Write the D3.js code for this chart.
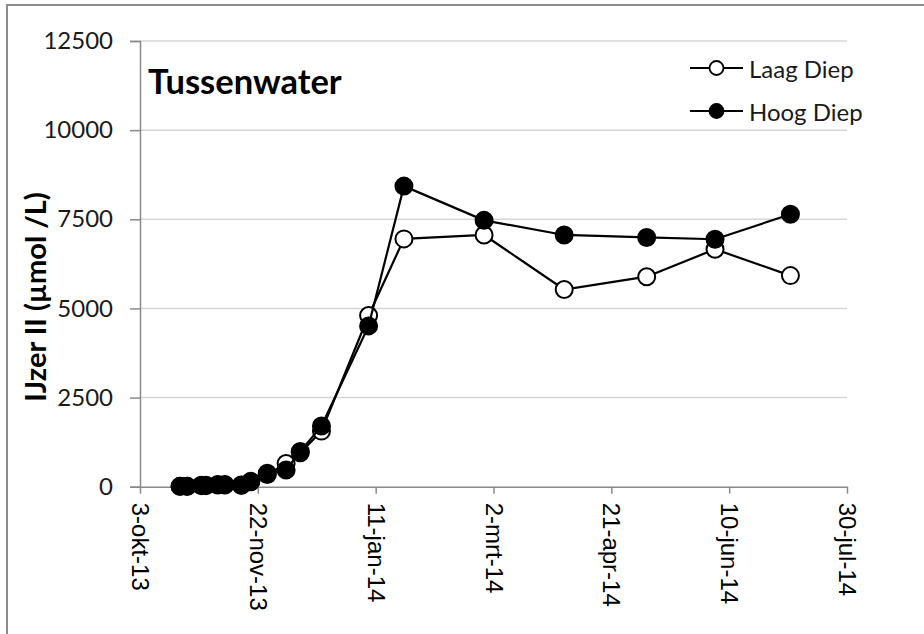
<!DOCTYPE html>
<html>
<head>
<meta charset="utf-8">
<script src="https://d3js.org/d3.v7.min.js"></script>
<style>
  html, body { margin: 0; padding: 0; background: #ffffff; }
  #chart { width: 924px; height: 634px; }
</style>
</head>
<body>
<div id="chart"></div>
<script>
// sample dates (days between them)
var sampleDates = ["2013-10-20", "2013-10-23", "2013-10-29", "2013-10-31", "2013-11-05",
                   "2013-11-08", "2013-11-15", "2013-11-19", "2013-11-26", "2013-12-04",
                   "2013-12-10", "2013-12-19", "2014-01-08", "2014-01-23", "2014-02-26",
                   "2014-04-01", "2014-05-06", "2014-06-04", "2014-07-06"];

var laagDiep = [10, 10, 30, 30, 50, 50, 40, 140, 340, 650,
                950, 1560, 4800, 6950, 7060, 5530, 5890, 6660, 5920];

var hoogDiep = [10, 10, 40, 40, 60, 60, 50, 150, 380, 470,
                990, 1700, 4510, 8430, 7470, 7060, 6990, 6940, 7640];

var xTickDates = ["2013-10-03", "2013-11-22", "2014-01-11", "2014-03-02",
                  "2014-04-21", "2014-06-10", "2014-07-30"];
var xTickLabels = ["3-okt-13", "22-nov-13", "11-jan-14", "2-mrt-14",
                   "21-apr-14", "10-jun-14", "30-jul-14"];
var yTicks = [0, 2500, 5000, 7500, 10000, 12500];

var chartTitle = "Tussenwater";
var yTitle = "IJzer II (\u00b5mol /L)";
var seriesNames = ["Laag Diep", "Hoog Diep"];

var ChartApp = function()
{
  this.WIDTH = 924;
  this.HEIGHT = 634;
  this.MARKER_RADIUS = 8.5;
  this.AXIS_COLOR = "#898989";
  this.GRID_COLOR = "#d6d6d6";
  this.LABEL_FONT = "Lato, 'Open Sans', sans-serif";
  this.DATE_FONT = "'Liberation Sans', Arial, sans-serif";

  var parse = d3.utcParse("%Y-%m-%d");
  this.x = d3.scaleUtc()
             .domain([parse(xTickDates[0]), parse(xTickDates[xTickDates.length - 1])])
             .range([140, 847]);
  this.y = d3.scaleLinear()
             .domain([0, 12500])
             .range([486.7, 41]);

  this.series = [
    { name: seriesNames[0], fill: "#ffffff", points: [] },
    { name: seriesNames[1], fill: "#000000", points: [] }
  ];
  for (var i = 0; i < sampleDates.length; i++)
  {
    this.series[0].points.push({ date: parse(sampleDates[i]), value: laagDiep[i] });
    this.series[1].points.push({ date: parse(sampleDates[i]), value: hoogDiep[i] });
  }
  this.tickDates = xTickDates.map(function (d) { return parse(d); });
  this.svg = null;
};

ChartApp.prototype.initializeSvg = function()
{
  this.svg = d3.select("#chart").append("svg")
               .attr("width", this.WIDTH)
               .attr("height", this.HEIGHT);

  // outer chart border, runs off the right and bottom edge
  this.svg.append("rect")
          .attr("x", 7)
          .attr("y", 5)
          .attr("width", 940)
          .attr("height", 660)
          .attr("fill", "none")
          .attr("stroke", "#8c8c8c")
          .attr("stroke-width", 2);
}

ChartApp.prototype.drawAxes = function()
{
  var self = this;
  var x0 = this.x.range()[0], x1 = this.x.range()[1];

  // gridlines
  this.svg.append("g").selectAll("line")
          .data(yTicks.filter(function (t) { return t > 0; }))
          .enter().append("line")
          .attr("x1", x0)
          .attr("x2", x1)
          .attr("y1", function (t) { return self.y(t); })
          .attr("y2", function (t) { return self.y(t); })
          .attr("stroke", this.GRID_COLOR)
          .attr("stroke-width", 1.5);

  // y axis
  var yAxis = d3.axisLeft(this.y)
                .tickValues(yTicks)
                .tickSize(10)
                .tickPadding(17)
                .tickFormat(d3.format("d"));
  var gy = this.svg.append("g")
                   .attr("transform", "translate(" + x0 + ",0)")
                   .call(yAxis);
  gy.select(".domain").attr("stroke", this.AXIS_COLOR).attr("stroke-width", 1.5);
  gy.selectAll(".tick line").attr("stroke", this.AXIS_COLOR).attr("stroke-width", 1.5);
  gy.selectAll(".tick text")
    .attr("font-family", this.LABEL_FONT)
    .attr("font-size", 24)
    .attr("fill", "#1a1a1a");

  // x axis
  var xAxis = d3.axisBottom(this.x)
                .tickValues(this.tickDates)
                .tickSize(7)
                .tickSizeOuter(0)
                .tickFormat(function (d, i) { return xTickLabels[i]; });
  var gx = this.svg.append("g")
                   .attr("transform", "translate(0," + this.y(0) + ")")
                   .call(xAxis);
  gx.select(".domain").attr("stroke", this.AXIS_COLOR).attr("stroke-width", 1.5);
  gx.selectAll(".tick line").attr("stroke", this.AXIS_COLOR).attr("stroke-width", 1.5);
  gx.selectAll(".tick text")
    .attr("font-family", this.DATE_FONT)
    .attr("font-size", 24)
    .attr("fill", "#000000")
    .attr("text-anchor", "start")
    .attr("dominant-baseline", "central")
    .attr("dy", null)
    .attr("y", 0)
    .attr("transform", "translate(0,16) rotate(90)");

  // titles
  this.svg.append("text")
          .attr("x", 148)
          .attr("y", 94)
          .attr("font-family", this.LABEL_FONT)
          .attr("font-weight", "bold")
          .attr("font-size", 34.5)
          .attr("fill", "#000000")
          .text(chartTitle);

  this.svg.append("text")
          .attr("transform", "translate(46,297) rotate(-90)")
          .attr("text-anchor", "middle")
          .attr("font-family", this.LABEL_FONT)
          .attr("font-weight", "bold")
          .attr("font-size", 29)
          .attr("fill", "#000000")
          .text(yTitle);
}

ChartApp.prototype.drawSeries = function()
{
  var self = this;
  var line = d3.line()
               .x(function (p) { return self.x(p.date); })
               .y(function (p) { return self.y(p.value); });

  // Laag first, Hoog on top of it
  var groups = this.svg.selectAll("g.series")
                       .data(this.series)
                       .enter().append("g")
                       .attr("class", "series");

  groups.append("path")
        .attr("d", function (s) { return line(s.points); })
        .attr("fill", "none")
        .attr("stroke", "#000000")
        .attr("stroke-width", 2.2);

  groups.each(function (s) {
    d3.select(this).selectAll("circle")
      .data(s.points)
      .enter().append("circle")
      .attr("cx", function (p) { return self.x(p.date); })
      .attr("cy", function (p) { return self.y(p.value); })
      .attr("r", self.MARKER_RADIUS)
      .attr("fill", s.fill)
      .attr("stroke", "#000000")
      .attr("stroke-width", 2);
  });
}

ChartApp.prototype.drawLegend = function()
{
  var legendY = [68, 111];
  var legend = this.svg.append("g").selectAll("g")
                       .data(this.series)
                       .enter().append("g")
                       .attr("transform", function (s, i) { return "translate(0," + legendY[i] + ")"; });

  legend.append("line")
        .attr("x1", 690)
        .attr("x2", 743)
        .attr("stroke", "#000000")
        .attr("stroke-width", 2.2);

  legend.append("circle")
        .attr("cx", 716.5)
        .attr("r", 7)
        .attr("fill", function (s) { return s.fill; })
        .attr("stroke", "#000000")
        .attr("stroke-width", 1.8);

  legend.append("text")
        .attr("x", 749)
        .attr("dominant-baseline", "central")
        .attr("font-family", this.LABEL_FONT)
        .attr("font-size", 24)
        .attr("fill", "#1a1a1a")
        .text(function (s) { return s.name; });
}

var chartApp = new ChartApp();
chartApp.initializeSvg();
chartApp.drawAxes();
chartApp.drawSeries();
chartApp.drawLegend();
</script>
</body>
</html>
